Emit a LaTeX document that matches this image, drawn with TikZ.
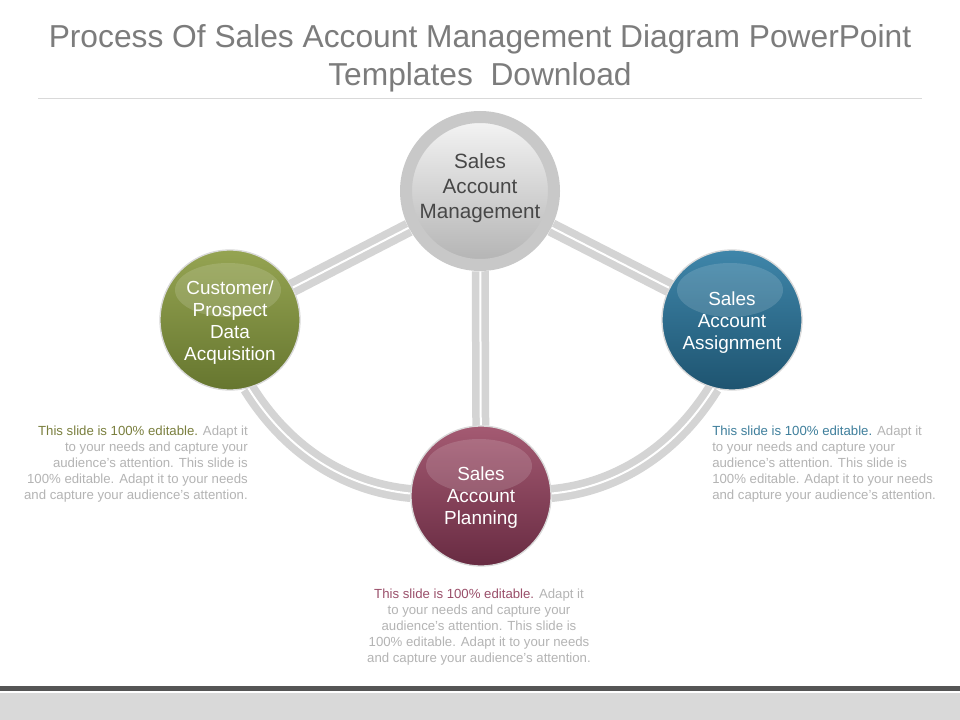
\documentclass[tikz,border=0pt]{standalone}
\usepackage{fontspec}
\setmainfont{Liberation Sans}
\usetikzlibrary{shapes.geometric}
\definecolor{titlegray}{HTML}{7C7C7C}
\definecolor{rulegray}{HTML}{D9D9D9}
\definecolor{conngray}{HTML}{D4D4D4}
\definecolor{ringgray}{HTML}{C8C8C8}
\definecolor{bodygray}{HTML}{B4B4B4}
\definecolor{olivetxt}{HTML}{7A7F3E}
\definecolor{tealtxt}{HTML}{3F7F9C}
\definecolor{maroontxt}{HTML}{9A4F6A}
\definecolor{greenA}{HTML}{95A452}
\definecolor{greenB}{HTML}{66762F}
\definecolor{blueA}{HTML}{3F86AA}
\definecolor{blueB}{HTML}{1E5470}
\definecolor{redA}{HTML}{A45A72}
\definecolor{redB}{HTML}{682B42}
\definecolor{bardark}{HTML}{555555}
\definecolor{barlight}{HTML}{D9D9D9}
\tikzset{
  conn/.style={draw=conngray, line width=7.5pt*0.75, double=white, double distance=1.5pt},
  bigcircle/.style={circle, minimum size=148*0.75pt, draw=ringgray, line width=12*0.75pt,
     top color=white!96!black, bottom color=black!30},
  bigtxt/.style={font=\fontsize{15.5pt}{19pt}\selectfont, text=black!72, align=center},
  smallcircle/.style={circle, minimum size=140*0.75pt, draw=white!85!black, line width=1pt},
  anchorcircle/.style={circle, minimum size=140*0.75pt, inner sep=0pt},
  circtxt/.style={font=\fontsize{14.2pt}{16.5pt}\selectfont, text=white, align=center},
  gloss/.style={ellipse, fill=white, fill opacity=0.14, minimum width=106*0.75pt, minimum height=54*0.75pt, inner sep=0pt},
  bodytxt/.style={font=\fontsize{9.9pt}{12pt}\selectfont, text=bodygray, inner sep=0pt},
}
\begin{document}
\begin{tikzpicture}[x=0.75pt, y=-0.75pt]
\useasboundingbox (0,0) rectangle (960,720);
\fill[white] (0,0) rectangle (960,720);
% title
\node[font=\fontsize{23.8pt}{28.5pt}\selectfont, text=titlegray, align=center] (title) at (480,58)
  {Process Of Sales Account Management Diagram PowerPoint\\Templates \ Download};
\draw[rulegray, line width=0.75pt] (38,99) -- (922,99);
% bottom bars
\fill[bardark] (0,686) rectangle (960,691);
\fill[barlight] (0,693) rectangle (960,720);
% invisible anchor circles
\node[anchorcircle, minimum size=160*0.75pt] (top) at (480,191) {};
\node[anchorcircle] (left) at (230,320) {};
\node[anchorcircle] (right) at (732,320) {};
\node[anchorcircle] (bot) at (481,496) {};
% connectors
\draw[conn] (top) -- (left);
\draw[conn] (top) -- (right);
\draw[conn] (top) -- (bot);
\draw[conn] (left.-75) .. controls (290,455) and (350,488) .. (bot.178);
\draw[conn] (right.-105) .. controls (672,455) and (612,488) .. (bot.2);
% circles
\node[bigcircle] (topc) at (top) {};
\node[bigtxt] (tt) at (480,188) {Sales\\Account\\Management};
\node[smallcircle, top color=greenA, bottom color=greenB] (leftc) at (left) {};
\node[gloss] (lg) at (228,290) {};
\node[circtxt] (lt) at (230,323) {Customer/\\Prospect\\Data\\Acquisition};
\node[smallcircle, top color=blueA, bottom color=blueB] (rightc) at (right) {};
\node[gloss] (rg) at (730,290) {};
\node[circtxt] (rt) at (732,323) {Sales\\Account\\Assignment};
\node[smallcircle, top color=redA, bottom color=redB] (botc) at (bot) {};
\node[gloss] (bg) at (479,466) {};
\node[circtxt] (bt) at (481,498) {Sales\\Account\\Planning};
% body texts
\node[bodytxt, align=right, anchor=north east] (ltxt) at (248,426)
  {\textcolor{olivetxt}{This slide is 100\% editable.} Adapt it\\to your needs and capture your\\audience's attention. This slide is\\100\% editable. Adapt it to your needs\\and capture your audience's attention.};
\node[bodytxt, align=left, anchor=north west] (rtxt) at (712,426)
  {\textcolor{tealtxt}{This slide is 100\% editable.} Adapt it\\to your needs and capture your\\audience's attention. This slide is\\100\% editable. Adapt it to your needs\\and capture your audience's attention.};
\node[bodytxt, align=center, anchor=north] (btxt) at (479,589)
  {\textcolor{maroontxt}{This slide is 100\% editable.} Adapt it\\to your needs and capture your\\audience's attention. This slide is\\100\% editable. Adapt it to your needs\\and capture your audience's attention.};
\end{tikzpicture}
\end{document}
